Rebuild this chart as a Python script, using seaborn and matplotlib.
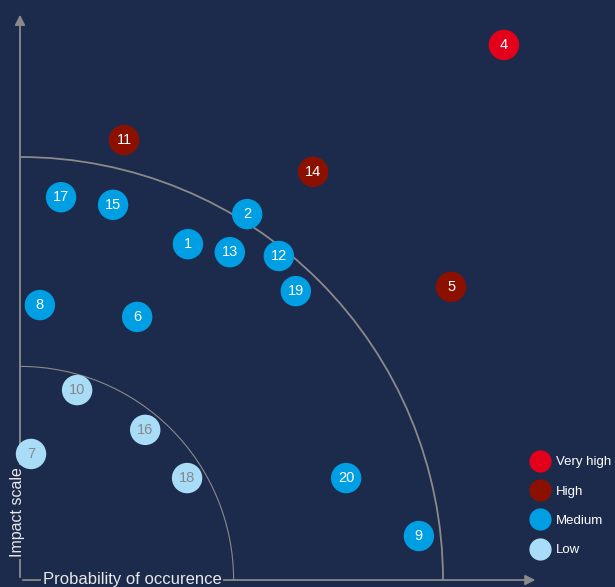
import numpy as np
import pandas as pd
import matplotlib
matplotlib.use("Agg")
import matplotlib.pyplot as plt
from matplotlib.patches import Arc
import seaborn as sns

# Risk matrix data (probability vs impact, big arc = 100)
risk_ids = [4, 11, 14, 17, 15, 2, 1, 13, 12, 19, 5, 8, 6, 10, 16, 7, 18, 20, 9]
probability = [114.4, 24.6, 69.3, 9.7, 22.0, 53.7, 39.7, 49.6, 61.2, 65.2,
               101.9, 4.7, 27.7, 13.5, 29.6, 2.6, 39.5, 77.1, 94.3]
impact = [126.5, 104.0, 96.5, 90.5, 88.7, 86.5, 79.4, 77.5, 76.6, 68.3,
          69.3, 65.0, 62.2, 44.9, 35.5, 29.8, 24.1, 24.1, 10.4]
level = ["Very high", "High", "High", "Medium", "Medium", "Medium", "Medium",
         "Medium", "Medium", "Medium", "High", "Medium", "Medium", "Low",
         "Low", "Low", "Low", "Medium", "Medium"]
level_order = ["Very high", "High", "Medium", "Low"]
level_colors = ["#e3001b", "#8b1000", "#009fe3", "#a8dcf7"]
arc_radii = [100, 50.5]

bg = "#1c2b4b"
grey = "#8a8a8a"

df = pd.DataFrame({"id": risk_ids, "prob": probability, "impact": impact, "level": level})

sns.set_style("white")
plt.rcParams["font.family"] = ["Liberation Sans", "DejaVu Sans"]

fig = plt.figure(figsize=(6.15, 5.87), dpi=100, facecolor=bg)
ax = fig.add_axes([0, 0, 1, 1], facecolor=bg)
ax.set_xlim(-4.73, 140.66)
ax.set_ylim(-1.65, 137.12)
ax.set_aspect("equal")
ax.axis("off")

# zone arcs
for r, lw in zip(arc_radii, [1.3, 0.8]):
    ax.add_patch(Arc((0, 0), 2 * r, 2 * r, theta1=0, theta2=90, color=grey, lw=lw, zorder=1))

# axes arrows
ax.annotate("", xy=(122.5, 0), xytext=(0, 0),
            arrowprops=dict(arrowstyle="-|>", color=grey, lw=1.3, mutation_scale=15), zorder=1)
ax.annotate("", xy=(0, 134.3), xytext=(0, 0),
            arrowprops=dict(arrowstyle="-|>", color=grey, lw=1.3, mutation_scale=15), zorder=1)

ax.text(26.5, 0.2, "Probability of occurence", color="#e8e8e8", fontsize=12,
        ha="center", va="center", zorder=2,
        bbox=dict(facecolor=bg, edgecolor="none", pad=1.5))
ax.text(-0.5, 16.1, "Impact scale", color="#e8e8e8", fontsize=11.5, rotation=90,
        ha="center", va="center", zorder=2,
        bbox=dict(facecolor=bg, edgecolor="none", pad=1.5))

sns.scatterplot(data=df, x="prob", y="impact", hue="level", hue_order=level_order,
                palette=level_colors, s=480, edgecolor="none", linewidth=0,
                ax=ax, zorder=3, legend=True)

for _, row in df.iterrows():
    tc = "#888888" if row["level"] == "Low" else "white"
    ax.text(row["prob"], row["impact"], str(row["id"]), color=tc, fontsize=10.5,
            ha="center", va="center", zorder=4)

leg = ax.legend(loc="upper left", bbox_to_anchor=(0.848, 0.232), frameon=False,
                labelcolor="white", fontsize=9.5, handletextpad=0.2,
                labelspacing=1.3, markerscale=1.0, borderaxespad=0)
for h in leg.legend_handles:
    h.set_markersize(16)
    h.set_markeredgewidth(0)

fig.savefig("out.png", dpi=100, facecolor=bg)
